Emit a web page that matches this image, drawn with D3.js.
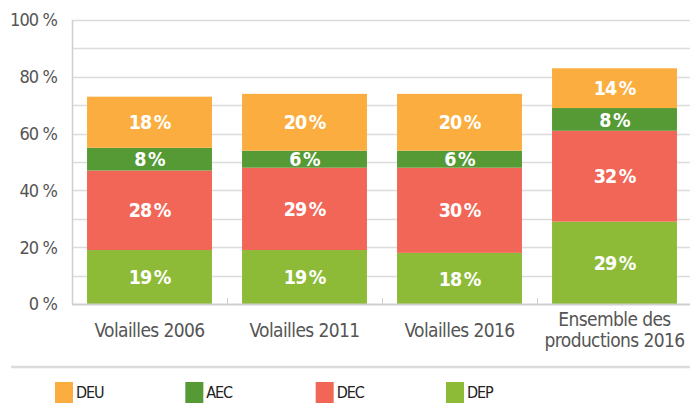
<!DOCTYPE html>
<html>
<head>
<meta charset="utf-8">
<script src="https://cdn.jsdelivr.net/npm/d3@7"></script>
<style>
  body { margin: 0; background: #fff; }
  svg { display: block; font-family: "DejaVu Sans Condensed", "Liberation Sans Narrow", "DejaVu Sans", sans-serif; font-stretch: condensed; }
</style>
</head>
<body>
<svg id="chart" width="690" height="403"></svg>
<script>
// categories on the x axis (multi-line labels split on \n)
const categories = ['Volailles 2006', 'Volailles 2011', 'Volailles 2016', 'Ensemble des\nproductions 2016'];
const seriesNames = ['DEP', 'DEC', 'AEC', 'DEU'];
const seriesColors = ['#8dbb38', '#f26658', '#559a35', '#fbae3f'];
// values per series, one per category (%)
const dep = [19, 19, 18, 29];
const dec = [28, 29, 30, 32];
const aec = [8, 6, 6, 8];
const deu = [18, 20, 20, 14];
const yTicks = [0, 20, 40, 60, 80, 100];
const legendOrder = ['DEU', 'AEC', 'DEC', 'DEP'];

const svg = d3.select('#chart');
const margin = { left: 72, top: 20, right: -2, bottom: 99 };
const width = 690 - margin.left - margin.right;
const height = 403 - margin.top - margin.bottom;

const rows = categories.map(function(c, i) {
  return { cat: c, DEP: dep[i], DEC: dec[i], AEC: aec[i], DEU: deu[i] };
});
const stacked = d3.stack().keys(seriesNames)(rows);

const x = d3.scaleBand().domain(categories).range([0, width]).paddingInner(0.194).paddingOuter(0.097);
const xb = d3.scaleBand().domain(categories).range([0, width]);
const y = d3.scaleLinear().domain([0, 100]).range([height, 0]);
const color = d3.scaleOrdinal().domain(seriesNames).range(seriesColors);

const g = svg.append('g').attr('transform', 'translate(' + margin.left + ',' + margin.top + ')');

// gridlines every 10%
g.append('g')
  .selectAll('line')
  .data(d3.range(10, 101, 10))
  .enter()
  .append('line')
  .attr('x1', 0)
  .attr('x2', width)
  .attr('y1', function(d) { return Math.round(y(d)) + 0.5; })
  .attr('y2', function(d) { return Math.round(y(d)) + 0.5; })
  .attr('stroke', '#dcdcdc')
  .attr('stroke-width', 1.5);

// y axis line + labels
g.append('line')
  .attr('x1', 0.5).attr('x2', 0.5)
  .attr('y1', y(100)).attr('y2', y(0))
  .attr('stroke', '#cfcfcf').attr('stroke-width', 1.5);

g.append('g')
  .selectAll('text')
  .data(yTicks)
  .enter()
  .append('text')
  .attr('x', -15)
  .attr('y', function(d) { return y(d); })
  .attr('dy', '0.36em')
  .attr('text-anchor', 'end')
  .attr('fill', '#555')
  .attr('font-size', 18)
  .attr('letter-spacing', -0.9)
  .text(function(d) { return d + ' %'; });

// bars
const layer = g.selectAll('.layer')
  .data(stacked)
  .enter()
  .append('g')
  .attr('class', 'layer')
  .attr('fill', function(d) { return color(d.key); });

layer.selectAll('rect')
  .data(function(d) { return d; })
  .enter()
  .append('rect')
  .attr('x', function(d) { return x(d.data.cat); })
  .attr('width', x.bandwidth())
  .attr('y', function(d) { return y(d[1]); })
  .attr('height', function(d) { return y(d[0]) - y(d[1]); });

layer.selectAll('text')
  .data(function(d) { return d.map(function(p) { p.key = d.key; return p; }); })
  .enter()
  .append('text')
  .attr('x', function(d) { return x(d.data.cat) + x.bandwidth() / 2; })
  .attr('y', function(d) { return (y(d[0]) + y(d[1])) / 2; })
  .attr('dy', '0.37em')
  .attr('text-anchor', 'middle')
  .attr('fill', '#fff')
  .attr('font-weight', 'bold')
  .attr('font-size', 19.5)
  .attr('letter-spacing', -1)
  .text(function(d) { return d.data[d.key] + '\u2009%'; });

// x baseline and category ticks
g.append('line')
  .attr('x1', 0).attr('x2', width)
  .attr('y1', height + 0.5).attr('y2', height + 0.5)
  .attr('stroke', '#cfcfcf').attr('stroke-width', 2);

g.append('g')
  .selectAll('line')
  .data(categories.slice(1))
  .enter()
  .append('line')
  .attr('x1', function(d) { return xb(d) + 0.5; })
  .attr('x2', function(d) { return xb(d) + 0.5; })
  .attr('y1', height - 6).attr('y2', height)
  .attr('stroke', '#cfcfcf').attr('stroke-width', 1);

// category labels
const catLabel = g.append('g')
  .selectAll('text')
  .data(categories)
  .enter()
  .append('text')
  .attr('text-anchor', 'middle')
  .attr('fill', '#555')
  .attr('font-size', 19)
  .attr('letter-spacing', -0.6)
  .attr('transform', function(d) {
    const lines = d.split('\n').length;
    return 'translate(' + (xb(d) + xb.bandwidth() / 2) + ',' + (lines > 1 ? height + 22 : height + 33) + ')';
  });

catLabel.selectAll('tspan')
  .data(function(d) { return d.split('\n'); })
  .enter()
  .append('tspan')
  .attr('x', 0)
  .attr('dy', function(d, i) { return i === 0 ? 0 : 21; })
  .text(function(d) { return d; });

// legend separator
svg.append('line')
  .attr('x1', 11).attr('x2', 690)
  .attr('y1', 367).attr('y2', 367)
  .attr('stroke', '#dcdcdc').attr('stroke-width', 2.5);

const legendX = d3.scalePoint().domain(legendOrder).range([55, 446]);

const legend = svg.append('g')
  .selectAll('g')
  .data(legendOrder)
  .enter()
  .append('g')
  .attr('transform', function(d) { return 'translate(' + legendX(d) + ',382)'; });

legend.append('rect')
  .attr('width', 18)
  .attr('height', 21)
  .attr('fill', function(d) { return color(d); });

legend.append('text')
  .attr('x', 21)
  .attr('y', 16)
  .attr('fill', '#222')
  .attr('font-size', 16)
  .attr('letter-spacing', -1.1)
  .text(function(d) { return d; });
</script>
</body>
</html>
